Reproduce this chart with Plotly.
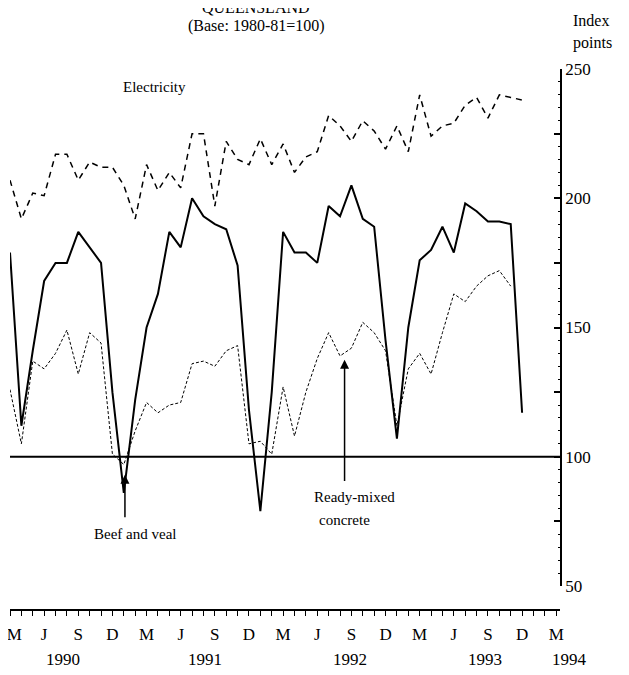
import plotly.graph_objects as go

# Month index 0 = March 1990, monthly through Dec 1993
months_beef = list(range(46))
beef_veal = [179, 112, 141, 168, 175, 175, 187, 181, 175, 125,
             86, 122, 150, 163, 187, 181, 200, 193, 190, 188,
             174, 118, 79, 125, 187, 179, 179, 175, 197, 193,
             205, 192, 189, 145, 107, 150, 176, 180, 189, 179,
             198, 195, 191, 191, 190, 117]

months_elec = list(range(46))
electricity = [207, 192, 202, 201, 217, 217, 207, 214, 212, 212,
               205, 192, 213, 203, 210, 204, 225, 225, 197, 222,
               215, 213, 223, 213, 221, 210, 216, 218, 232, 228,
               222, 230, 226, 219, 228, 218, 240, 224, 228, 229,
               236, 239, 231, 240, 239, 238]

months_conc = list(range(45))
concrete = [126, 105, 137, 134, 140, 149, 132, 148, 144, 101,
            97, 110, 121, 117, 120, 121, 136, 137, 135, 141,
            143, 105, 106, 101, 127, 108, 125, 138, 148, 139,
            142, 152, 148, 141, 112, 134, 140, 132, 148, 163,
            160, 166, 170, 172, 166]

BASE = 100
tick_months = list(range(0, 49, 3))
tick_labels = ["\u2002M"] + ["J", "S", "D", "M"] * 4
year_labels = ["1990", "1991", "1992", "1993", "1994"]
year_pos = [4.66, 17.1, 29.9, 41.7, 49.2]   # in months from March 1990

y_ticks = [50, 75, 100, 125, 150, 175, 200, 225, 250]
y_ticktext = ["50", "", "100", "", "150", "", "200", "", "250"]

# The page body has an 8px default margin; the figure fills the rest of the window.
OFF = 8
WIN_W, WIN_H = 629, 675
W, H = WIN_W - OFF, WIN_H - OFF
PX_PER_MONTH = 11.38
FONT = "Liberation Serif"

def fx(px):  # window x pixel -> paper fraction
    return (px - OFF) / W

def fy(py):  # window y pixel -> paper fraction
    return 1 - (py - OFF) / H

fig = go.Figure()
fig.add_trace(go.Scatter(x=months_elec, y=electricity, mode="lines",
                         line=dict(color="black", width=1.5, dash="6px,5px")))
fig.add_trace(go.Scatter(x=months_beef, y=beef_veal, mode="lines",
                         line=dict(color="black", width=2)))
fig.add_trace(go.Scatter(x=months_conc, y=concrete, mode="lines",
                         line=dict(color="black", width=1, dash="3px,2px")))

fig.add_hline(y=BASE, line=dict(color="black", width=2))

x0_px, x1_px = 10, 560
fig.update_layout(
    width=W, height=H, autosize=False,
    margin=dict(l=0, r=0, t=0, b=0, pad=0),
    paper_bgcolor="white", plot_bgcolor="white",
    showlegend=False,
    font=dict(family=FONT, color="black", size=16),
    xaxis=dict(
        domain=[fx(x0_px), fx(x1_px)],
        range=[0, (x1_px - x0_px) / PX_PER_MONTH],
        anchor="free", position=fy(610),
        automargin=False,
        showline=True, linecolor="black", linewidth=1.5,
        ticks="outside", ticklen=5, tickwidth=1.2, tickcolor="black",
        tickmode="array", tickvals=tick_months, ticktext=tick_labels,
        tickfont=dict(family=FONT, size=17, color="black"),
        ticklabelstandoff=4, ticklabeloverflow="allow",
        minor=dict(tickmode="linear", tick0=0, dtick=1, ticks="outside",
                   ticklen=5, tickwidth=1.2, tickcolor="black", showgrid=False),
        showgrid=False, zeroline=False,
    ),
    yaxis=dict(
        domain=[fy(586), fy(69)],
        range=[50, 250],
        side="right", anchor="x",
        automargin=False,
        showline=True, linecolor="black", linewidth=1.5,
        ticks="inside", ticklen=6, tickwidth=1.5, tickcolor="black",
        tickmode="array", tickvals=y_ticks, ticktext=y_ticktext,
        tickfont=dict(family=FONT, size=17, color="black"),
        minor=dict(tickmode="linear", tick0=50, dtick=5, ticks="inside",
                   ticklen=2, tickwidth=1, tickcolor="black", showgrid=False),
        showgrid=False, zeroline=False,
    ),
)

ann = []
def paper_text(text, xpx, ypx, size=16, xanchor="center"):
    return dict(text=text, x=fx(xpx), y=fy(ypx), xref="paper", yref="paper",
                xanchor=xanchor, yanchor="middle", showarrow=False,
                font=dict(size=size))

# Titles and unit
ann.append(paper_text("QUEENSLAND", 256, 7))
ann.append(paper_text("(Base: 1980-81=100)", 256, 26))
ann.append(paper_text("Index", 571, 20, xanchor="left"))
ann.append(paper_text("points", 571, 43, xanchor="left"))
# Year labels (placed from the month scale)
for lab, pos in zip(year_labels, year_pos):
    ann.append(paper_text(lab, x0_px + pos * PX_PER_MONTH, 659, size=17))
# Series labels
def data_text(text, x, y, size=15):
    return dict(text=text, x=x, y=y, xref="x", yref="y", yanchor="middle",
                showarrow=False, font=dict(size=size))
ann.append(data_text("Electricity", 12.7, 243))
ann.append(data_text("Ready-mixed", 30.3, 84.5))
ann.append(data_text("concrete", 29.4, 75.6))
ann.append(data_text("Beef and veal", 11.0, 70))
# Arrows
ann.append(dict(text="", x=29.4, y=137.5, ax=29.4, ay=90, xref="x", yref="y",
                axref="x", ayref="y", showarrow=True, arrowhead=2, arrowsize=1.2,
                arrowwidth=1.5, arrowcolor="black"))
ann.append(dict(text="", x=10.1, y=93, ax=10.1, ay=76, xref="x", yref="y",
                axref="x", ayref="y", showarrow=True, arrowhead=2, arrowsize=1.2,
                arrowwidth=1.5, arrowcolor="black"))
fig.update_layout(annotations=ann)

fig.write_html("out.html")
